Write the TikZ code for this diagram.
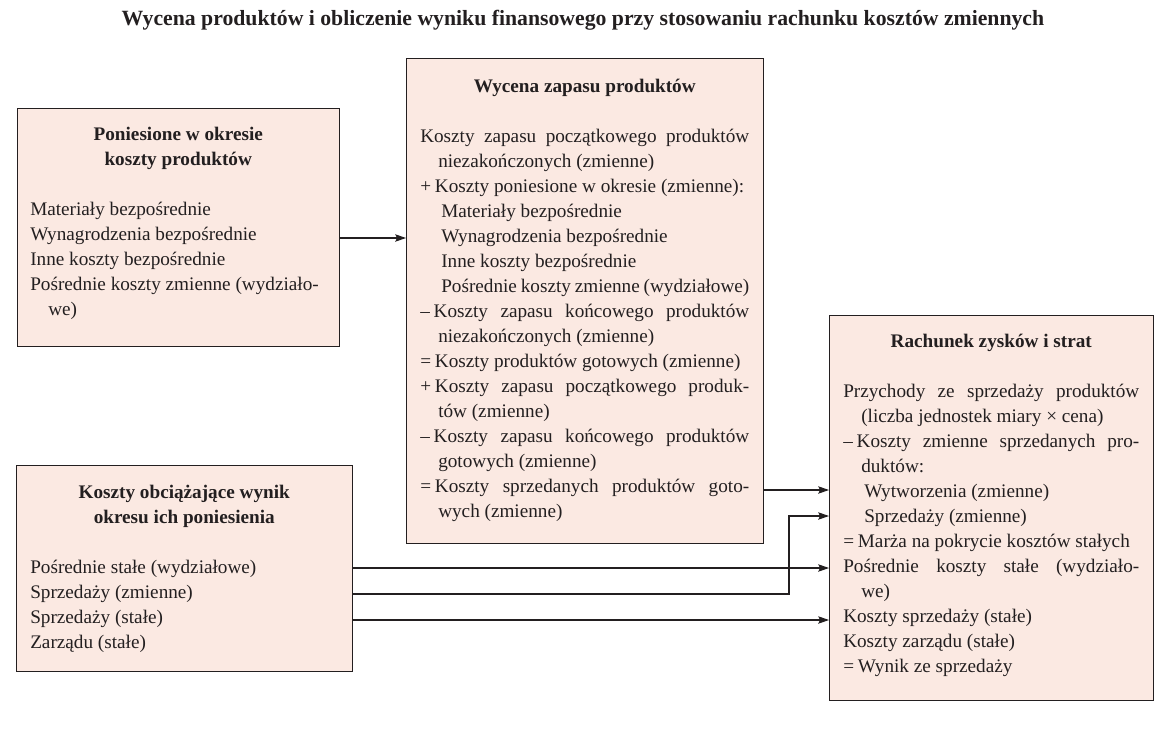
\documentclass[tikz,border=0pt]{standalone}
\usepackage{fontspec}
\setmainfont{Liberation Serif}
\usetikzlibrary{arrows.meta}
\definecolor{boxfill}{RGB}{251,233,226}
\definecolor{ink}{RGB}{35,31,32}
\newcommand\jl[1]{\makebox[\linewidth][s]{#1}}
\newcommand\hi{\hspace*{13.5pt}}
\newcommand\si{\hspace*{15.75pt}}
\newcommand\op[1]{#1\hspace{0.2em}}
\begin{document}
\begin{tikzpicture}[x=0.75pt,y=-0.75pt,
  box/.style={draw=ink, line width=0.95pt, fill=boxfill, anchor=north west, inner sep=0pt},
  txt/.style={anchor=base west, inner sep=0pt, text=ink, font=\fontsize{14.4}{18.75}\selectfont},
  arr/.style={draw=ink, line width=0.8pt, -{Stealth[length=8pt,width=5.5pt,inset=1.2pt]}}]
\useasboundingbox (0,0) rectangle (1168,743);

\node[anchor=base, inner sep=0pt, text=ink, font=\bfseries\fontsize{16.3}{20}\selectfont] (title) at (583,25)
  {Wycena produktów i obliczenie wyniku finansowego przy stosowaniu rachunku kosztów zmiennych};

% boxes
\node[box, minimum width=241.5pt, minimum height=178.5pt] (A) at (17,108) {};
\node[box, minimum width=267.75pt, minimum height=363.75pt] (B) at (406,58) {};
\node[box, minimum width=243pt, minimum height=288.75pt] (C) at (829,315) {};
\node[box, minimum width=252pt, minimum height=154.5pt] (D) at (16,465) {};

% box A text
\node[txt] (At) at (30,140) {\parbox[t]{222pt}{%
{\centering\bfseries Poniesione w okresie\\koszty produktów\par}\vspace{18.75pt}
Materiały bezpośrednie\\
Wynagrodzenia bezpośrednie\\
Inne koszty bezpośrednie\\
Pośrednie koszty zmienne (wydziało-\\
\hi we)}};

% box B text
\node[txt] (Bt) at (420,92) {\parbox[t]{246.75pt}{%
{\centering\bfseries Wycena zapasu produktów\par}\vspace{18.75pt}
\jl{Koszty zapasu początkowego produktów}\\
\hi niezakończonych (zmienne)\\
\op{+}Koszty poniesione w okresie (zmienne):\\
\si Materiały bezpośrednie\\
\si Wynagrodzenia bezpośrednie\\
\si Inne koszty bezpośrednie\\
\si Pośrednie koszty zmienne (wydziałowe)\\
\jl{\op{–}Koszty zapasu końcowego produktów}\\
\hi niezakończonych (zmienne)\\
\op{=}Koszty produktów gotowych (zmienne)\\
\jl{\op{+}Koszty zapasu początkowego produk-}\\
\hi tów (zmienne)\\
\jl{\op{–}Koszty zapasu końcowego produktów}\\
\hi gotowych (zmienne)\\
\jl{\op{=}Koszty sprzedanych produktów goto-}\\
\hi wych (zmienne)}};

% box C text
\node[txt] (Ct) at (843,347) {\parbox[t]{222pt}{%
{\centering\bfseries Rachunek zysków i strat\par}\vspace{18.75pt}
\jl{Przychody ze sprzedaży produktów}\\
\hi (liczba jednostek miary × cena)\\
\jl{\op{–}Koszty zmienne sprzedanych pro-}\\
\hi duktów:\\
\si Wytworzenia (zmienne)\\
\si Sprzedaży (zmienne)\\
\op{=}Marża na pokrycie kosztów stałych\\
\jl{Pośrednie koszty stałe (wydziało-}\\
\hi we)\\
Koszty sprzedaży (stałe)\\
Koszty zarządu (stałe)\\
\op{=}Wynik ze sprzedaży}};

% box D text
\node[txt] (Dt) at (30,498) {\parbox[t]{231pt}{%
{\centering\bfseries Koszty obciążające wynik\\okresu ich poniesienia\par}\vspace{18.75pt}
Pośrednie stałe (wydziałowe)\\
Sprzedaży (zmienne)\\
Sprzedaży (stałe)\\
Zarządu (stałe)}};

% connectors
\draw[arr] (A.east |- 0,238) -- (B.west |- 0,238);
\draw[arr] (B.east |- 0,490) -- (C.west |- 0,490);
\draw[arr] (D.east |- 0,568) -- (C.west |- 0,568);
\draw[arr] (D.east |- 0,594) -| (789,516) -- (C.west |- 0,516);
\draw[arr] (D.east |- 0,620) -- (C.west |- 0,620);
\end{tikzpicture}
\end{document}
